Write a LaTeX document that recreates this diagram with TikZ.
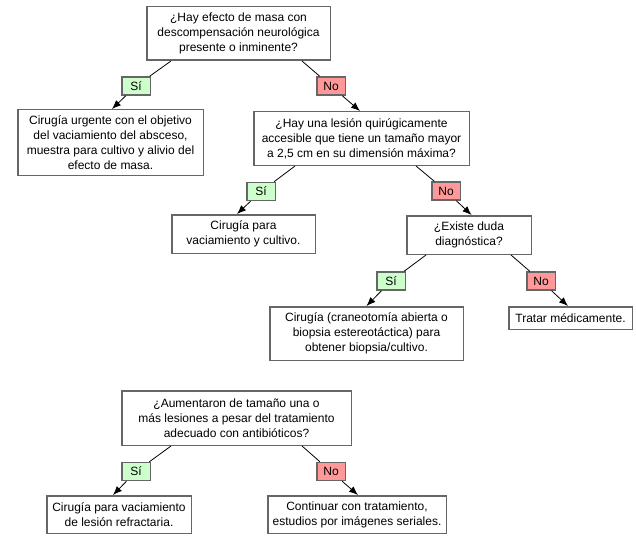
\documentclass[tikz,border=0pt]{standalone}
\usepackage{fontspec}
\setmainfont{Liberation Sans}
\usetikzlibrary{arrows.meta}
\begin{document}
\begin{tikzpicture}[x=1pt, y=-1pt,
  box/.style={draw=black!60, line width=1.5pt, fill=white, align=center, inner sep=1pt, font=\fontsize{12}{15}\selectfont},
  si/.style={box, fill=green!20, minimum width=28.5pt, minimum height=18pt, inner sep=0pt},
  no/.style={box, fill=red!40, minimum width=28.5pt, minimum height=18pt, inner sep=0pt},
  link/.style={black, line width=0.8pt},
  arrow/.style={link, -{Latex[length=9pt,width=7pt]}}]
  \useasboundingbox (0,0) rectangle (636,540);

  % Define questions
  \node[box, minimum width=183.5pt, minimum height=53.5pt] (masa) at (238.5,33.5) {¿Hay efecto de masa con\\descompensación neurológica\\presente o inminente?};
  \node[box, minimum width=215.5pt, minimum height=53.5pt] (lesion) at (361.5,138.5) {¿Hay una lesión quirúgicamente\\accesible que tiene un tamaño mayor\\a 2,5 cm en su dimensión máxima?};
  \node[box, minimum width=124.5pt, minimum height=38.5pt] (duda) at (469,235) {¿Existe duda\\diagnóstica?};
  \node[box, minimum width=229.5pt, minimum height=54.5pt] (aumento) at (236.5,418) {¿Aumentaron de tamaño una o\\más lesiones a pesar del tratamiento\\adecuado con antibióticos?};

  % Define actions
  \node[box, minimum width=185.5pt, minimum height=65.5pt] (urgente) at (110.5,142.5) {Cirugía urgente con el objetivo\\del vaciamiento del absceso,\\muestra para cultivo y alivio del\\efecto de masa.};
  \node[box, minimum width=143.5pt, minimum height=38.5pt] (vaciamiento) at (243.5,234) {Cirugía para\\vaciamiento y cultivo.};
  \node[box, minimum width=193.5pt, minimum height=53.5pt] (biopsia) at (366.5,333.5) {Cirugía (craneotomía abierta o\\biopsia estereotáctica) para\\obtener biopsia/cultivo.};
  \node[box, minimum width=123.5pt, minimum height=22.5pt] (medico) at (570.5,318) {Tratar médicamente.};
  \node[box, minimum width=144.5pt, minimum height=37.5pt] (refractaria) at (119,514.5) {Cirugía para vaciamiento\\de lesión refractaria.};
  \node[box, minimum width=178.5pt, minimum height=37.5pt] (seriales) at (357,514.5) {Continuar con tratamiento,\\estudios por imágenes seriales.};

  % Define answers
  \node[si] (si1) at (136,86) {Sí};
  \node[no] (no1) at (331,86) {No};
  \node[si] (si2) at (261,191.5) {Sí};
  \node[no] (no2) at (446,191) {No};
  \node[si] (si3) at (391,281) {Sí};
  \node[no] (no3) at (541,281) {No};
  \node[si] (si4) at (136,471.5) {Sí};
  \node[no] (no4) at (331,471.5) {No};

  % Draw edges
  \draw[link] ([xshift=-67.5pt]masa.south) -- (si1);
  \draw[arrow] (si1) -- ([xshift=1.5pt]urgente.north);
  \draw[link] ([xshift=63.5pt]masa.south) -- (no1);
  \draw[arrow] (no1) -- ([xshift=-1.5pt]lesion.north);
  \draw[link] ([xshift=-66.5pt]lesion.south) -- (si2);
  \draw[arrow] (si2) -- ([xshift=-6.5pt]vaciamiento.north);
  \draw[link] ([xshift=54.5pt]lesion.south) -- (no2);
  \draw[arrow] (no2) -- ([xshift=2.5pt]duda.north);
  \draw[link] ([xshift=-43pt]duda.south) -- (si3);
  \draw[arrow] (si3) -- (biopsia.north);
  \draw[link] ([xshift=42pt]duda.south) -- (no3);
  \draw[arrow] (no3) -- ([xshift=-2.5pt]medico.north);
  \draw[link] ([xshift=-65.5pt]aumento.south) -- (si4);
  \draw[arrow] (si4) -- ([xshift=-6pt]refractaria.north);
  \draw[link] ([xshift=65.5pt]aumento.south) -- (no4);
  \draw[arrow] (no4) -- ([xshift=1pt]seriales.north);
\end{tikzpicture}
\end{document}
